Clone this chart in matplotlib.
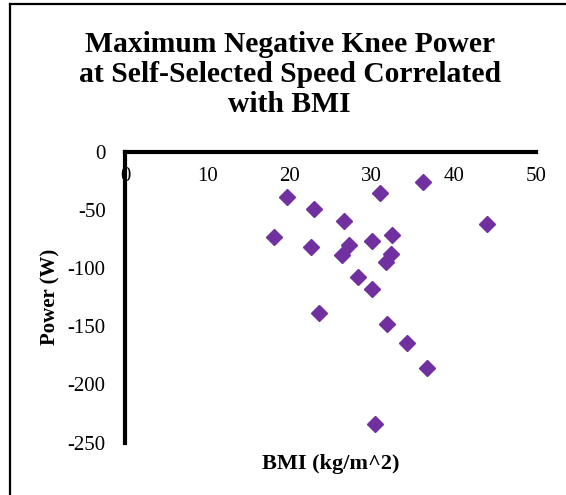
import matplotlib
matplotlib.use("Agg")
import matplotlib.pyplot as plt
from matplotlib.lines import Line2D

# BMI vs max negative knee power at self-selected speed
bmi = [19.75, 23.0, 26.6, 18.1, 22.6, 27.2, 26.4, 30.0, 32.5, 32.4, 31.8,
       28.4, 30.0, 23.6, 31.9, 34.3, 36.7, 30.4, 31.0, 36.2, 44.0]
power = [-38.7, -49.6, -59.3, -73.6, -82.2, -79.9, -88.8, -76.8, -71.6, -88.3, -94.8,
         -107.4, -118.3, -138.7, -148.1, -164.2, -186.2, -233.8, -35.2, -25.8, -61.9]

xticks = [0, 10, 20, 30, 40, 50]
yticks = [0, -50, -100, -150, -200, -250]

plt.rcParams['font.family'] = ['Liberation Serif', 'DejaVu Serif']

fig = plt.figure(figsize=(5.66, 4.95), dpi=100)
ax = fig.add_axes([0.2208, 0.1057, 0.7261, 0.5878])

ax.plot(bmi, power, linestyle='none', marker='D', markersize=8,
        color='#7030A0', markeredgecolor='#7030A0')

ax.set_xlim(0, 50)
ax.set_ylim(-250, 0)
ax.set_xticks(xticks)
ax.set_yticks(yticks)
ax.set_yticklabels([str(v) for v in yticks])

for s in ['bottom', 'right']:
    ax.spines[s].set_visible(False)
for s in ['top', 'left']:
    ax.spines[s].set_linewidth(3)
    ax.spines[s].set_color('black')

# x labels sit just under the top axis line, Excel style
ax.tick_params(axis='x', top=True, bottom=False, labeltop=True, labelbottom=False,
               length=0, pad=-25, labelsize=15)
ax.tick_params(axis='y', length=0, pad=14, labelsize=15)

ax.set_xlabel('BMI (kg/m^2)', fontsize=16, fontweight='bold', labelpad=8)
ax.set_ylabel('Power (W)', fontsize=15, fontweight='bold', labelpad=5)

fig.text(0.512, 0.85, 'Maximum Negative Knee Power\nat Self-Selected Speed Correlated\nwith BMI',
         ha='center', va='center', fontsize=21.3, fontweight='bold', linespacing=1.15)

# border lines (only top and left visible in the crop)
fig.add_artist(Line2D([0.017, 0.017], [0, 0.991], transform=fig.transFigure,
                      color='black', linewidth=1.6))
fig.add_artist(Line2D([0.017, 1.0], [0.991, 0.991], transform=fig.transFigure,
                      color='black', linewidth=1.6))

fig.savefig('out.png', dpi=100)
